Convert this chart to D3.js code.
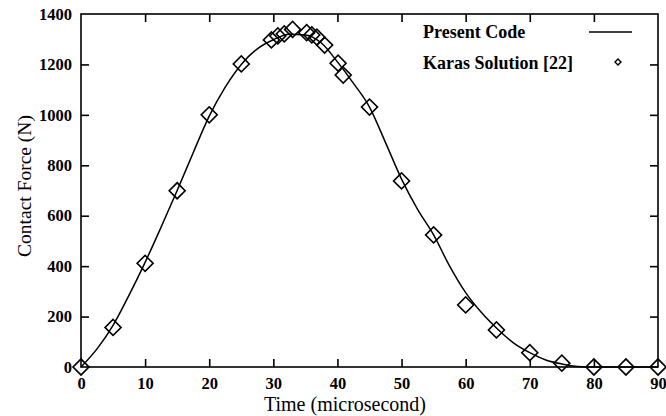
<!DOCTYPE html>
<html>
<head>
<meta charset="utf-8">
<script src="https://cdn.jsdelivr.net/npm/d3@7"></script>
<style>
  body { margin: 0; background: #fff; }
  svg { display: block; }
</style>
</head>
<body>
<svg id="chart"></svg>
<script>
// Karas solution points (time in microseconds, force in N)
const karasTime  = [0, 5, 10, 15, 20, 25, 29.7, 30.7, 31.7, 33, 35.2, 36, 36.8, 38, 40.1, 40.9, 45, 50, 55, 60, 64.8, 70, 75, 80, 85, 90];
const karasForce = [0, 157, 411, 699, 1000, 1202, 1297, 1313, 1321, 1339, 1326, 1317, 1308, 1277, 1205, 1158, 1031, 738, 524, 246, 147, 57, 15, 0, 0, 0];

// Present code curve
const codeTime  = [0, 2.5, 5, 7.5, 10, 12.5, 15, 17.5, 20, 22.5, 25, 27.5, 30, 32.5, 35, 37.5, 40, 42.5, 45, 47.5, 50, 52.5, 55, 57.5, 60, 62.5, 65, 67.5, 70, 72.5, 75, 77.5, 80, 85, 90];
const codeForce = [0, 72, 165, 285, 415, 555, 700, 850, 995, 1110, 1200, 1262, 1298, 1320, 1317, 1285, 1210, 1125, 1031, 890, 745, 625, 524, 400, 295, 215, 150, 95, 57, 28, 12, 2, 0, 0, 0];

const xTicks = [0, 10, 20, 30, 40, 50, 60, 70, 80, 90];
const yTicks = [0, 200, 400, 600, 800, 1000, 1200, 1400];

const legendLabels = ["Present Code", "Karas Solution [22]"];

const width = 666, height = 416;
const margin = {top: 14, right: 8, bottom: 49, left: 81};
const serif = '"Liberation Serif"';

const svg = d3.select("#chart")
    .attr("width", width)
    .attr("height", height);

const x = d3.scaleLinear().domain([0, 90]).range([margin.left, width - margin.right]);
const y = d3.scaleLinear().domain([0, 1400]).range([height - margin.bottom, margin.top]);

const tickLen = 8;

// frame
svg.append("rect")
    .attr("x", x(0)).attr("y", y(1400))
    .attr("width", x(90) - x(0)).attr("height", y(0) - y(1400))
    .attr("fill", "none").attr("stroke", "#000").attr("stroke-width", 1.6);

// axes (ticks point inward)
const gBottom = svg.append("g").attr("transform", `translate(0,${y(0)})`)
    .call(d3.axisBottom(x).tickValues(xTicks).tickFormat(d3.format("d")).tickSizeInner(-tickLen).tickSizeOuter(0).tickPadding(10));
const gTop = svg.append("g").attr("transform", `translate(0,${y(1400)})`)
    .call(d3.axisTop(x).tickValues(xTicks).tickSizeInner(-tickLen).tickSizeOuter(0).tickFormat(""));
const gLeft = svg.append("g").attr("transform", `translate(${x(0)},0)`)
    .call(d3.axisLeft(y).tickValues(yTicks).tickFormat(d3.format("d")).tickSizeInner(-tickLen).tickSizeOuter(0).tickPadding(9));
const gRight = svg.append("g").attr("transform", `translate(${x(90)},0)`)
    .call(d3.axisRight(y).tickValues(yTicks).tickSizeInner(-tickLen).tickSizeOuter(0).tickFormat(""));

[gBottom, gTop, gLeft, gRight].forEach(g => {
  g.select(".domain").remove();
  g.selectAll(".tick line").attr("stroke", "#000").attr("stroke-width", 1.6);
  g.selectAll("text")
      .style("font-family", serif).style("font-size", "16.5px").style("font-weight", "bold")
      .attr("fill", "#000");
});
gLeft.selectAll(".tick line").filter(d => d === 0 || d === 1400).remove();
gRight.selectAll(".tick line").filter(d => d === 0 || d === 1400).remove();
gBottom.selectAll(".tick line").filter(d => d === 0 || d === 90).remove();
gTop.selectAll(".tick line").filter(d => d === 0 || d === 90).remove();

// axis titles
svg.append("text")
    .attr("x", 345).attr("y", 411)
    .attr("text-anchor", "middle")
    .style("font-family", serif).style("font-size", "20px")
    .text("Time (microsecond)");

svg.append("text")
    .attr("transform", `translate(31,186) rotate(-90)`)
    .attr("text-anchor", "middle")
    .style("font-family", serif).style("font-size", "19.5px")
    .text("Contact Force (N)");

// curve
const line = d3.line()
    .x(d => x(d[0]))
    .y(d => y(d[1]))
    .curve(d3.curveMonotoneX);

svg.append("path")
    .datum(d3.zip(codeTime, codeForce))
    .attr("d", line)
    .attr("fill", "none")
    .attr("stroke", "#000")
    .attr("stroke-width", 1.5);

// diamonds
const diamond = d3.symbol().type(d3.symbolSquare).size(128);
svg.append("g")
    .selectAll("path")
    .data(d3.zip(karasTime, karasForce))
    .join("path")
    .attr("d", diamond)
    .attr("transform", d => `translate(${x(d[0])},${y(d[1])}) rotate(45)`)
    .attr("fill", "none")
    .attr("stroke", "#000")
    .attr("stroke-width", 1.6);

// legend
const legend = svg.append("g");
legend.append("text").attr("x", 423).attr("y", 38)
    .style("font-family", serif).style("font-size", "18px").style("font-weight", "bold")
    .text(legendLabels[0]);
legend.append("line")
    .attr("x1", 589).attr("x2", 632).attr("y1", 32).attr("y2", 32)
    .attr("stroke", "#000").attr("stroke-width", 1.5);
legend.append("text").attr("x", 423).attr("y", 69)
    .style("font-family", serif).style("font-size", "18px").style("font-weight", "bold")
    .text(legendLabels[1]);
legend.append("path")
    .attr("d", d3.symbol().type(d3.symbolSquare).size(18))
    .attr("transform", "translate(618,62) rotate(45)")
    .attr("fill", "none").attr("stroke", "#000").attr("stroke-width", 1.4);
</script>
</body>
</html>
